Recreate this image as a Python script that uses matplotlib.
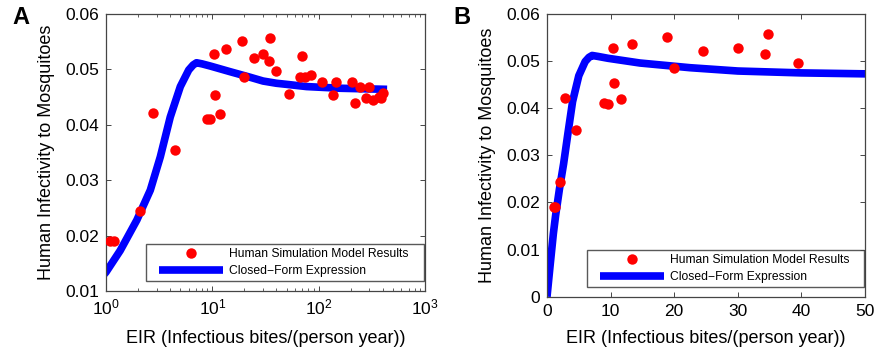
import matplotlib
matplotlib.use('Agg')
import matplotlib.pyplot as plt
import numpy as np
from matplotlib.lines import Line2D
from matplotlib.legend_handler import HandlerLine2D

plt.rcParams['font.family'] = ['Liberation Sans', 'DejaVu Sans']
plt.rcParams['mathtext.fontset'] = 'custom'
plt.rcParams['mathtext.rm'] = 'Liberation Sans'
plt.rcParams['mathtext.it'] = 'Liberation Sans:italic'

# simulation results (EIR, infectivity)
sim_eir = [1.08, 1.2, 2.07, 2.76, 4.5, 8.9, 9.6, 10.3, 10.5, 11.7, 13.3, 18.9, 19.9,
           24.5, 30.0, 34.2, 34.7, 39.5, 53, 66.4, 69.8, 74.0, 85.5, 108.6, 135, 145,
           205, 219, 244, 278, 299, 323, 370, 388, 403]
sim_inf = [0.0191, 0.0191, 0.0244, 0.0421, 0.0354, 0.0411, 0.0410, 0.0527, 0.0454,
           0.0420, 0.0537, 0.0552, 0.0486, 0.0521, 0.0528, 0.0516, 0.0557, 0.0497,
           0.0455, 0.0487, 0.0525, 0.0486, 0.0490, 0.0478, 0.0454, 0.0478, 0.0478,
           0.0440, 0.0469, 0.0448, 0.0469, 0.0445, 0.0450, 0.0448, 0.0457]

# closed-form expression curve
cf_eir = [0, 0.5, 1.0, 1.36, 1.95, 2.61, 3.24, 4.02, 5.0, 6.0, 6.6, 7.1, 8.0, 9.6, 14.6,
          22.5, 30, 40, 50, 77, 158, 440]
cf_inf = [0.0, 0.0068, 0.0134, 0.0173, 0.0228, 0.0282, 0.0342, 0.0414, 0.0469, 0.0499,
          0.0508, 0.0512, 0.0510, 0.0506, 0.0496, 0.0486, 0.0479, 0.0475, 0.0473,
          0.0469, 0.0466, 0.0464]

yticks_a = [0.01, 0.02, 0.03, 0.04, 0.05, 0.06]
ytick_labels_a = ['0.01', '0.02', '0.03', '0.04', '0.05', '0.06']
yticks_b = [0, 0.01, 0.02, 0.03, 0.04, 0.05, 0.06]
ytick_labels_b = ['0', '0.01', '0.02', '0.03', '0.04', '0.05', '0.06']
xticks_b = [0, 10, 20, 30, 40, 50]


class PaddedLine(HandlerLine2D):
    # legend handle with a gap on the left, like MATLAB legends
    def get_xdata(self, legend, xdescent, ydescent, width, height, fontsize):
        x0 = -xdescent + 0.75 * fontsize
        x1 = -xdescent + width
        return [x0, x1], [0.5 * (x0 + x1)]


W, H = 879, 354
fig = plt.figure(figsize=(W / 100, H / 100), dpi=100)
ax1 = fig.add_axes([106 / W, (H - 291) / H, 319 / W, 277 / H])
ax2 = fig.add_axes([547 / W, (H - 296.7) / H, 318 / W, 282.7 / H])

spine_col = '#454545'
for ax in (ax1, ax2):
    ax.plot(sim_eir, sim_inf, 'o', color='red', markersize=7.5, markeredgewidth=0,
            label='Human Simulation Model Results', zorder=3)
    ax.set_ylabel('Human Infectivity to Mosquitoes', fontsize=13)
    ax.set_xlabel('EIR (Infectious bites/(person year))', fontsize=13)
    ax.tick_params(which='both', direction='in', top=True, right=True,
                   labelsize=12.5, color=spine_col, pad=5)
    ax.tick_params(which='major', length=3.5, width=0.7)
    ax.tick_params(which='minor', length=2, width=0.6)
    for s in ax.spines.values():
        s.set_color(spine_col)
        s.set_linewidth(0.9)

# panel A: log x
pos = np.array(cf_eir) > 0
ax1.plot(np.array(cf_eir)[pos], np.array(cf_inf)[pos], color='blue', linewidth=5.5,
         solid_capstyle='butt', solid_joinstyle='round',
         label='Closed\u2212Form Expression', zorder=2)
ax1.set_xscale('log')
ax1.set_xlim(1, 1000)
ax1.set_ylim(0.01, 0.06)
ax1.set_yticks(yticks_a)
ax1.set_yticklabels(ytick_labels_a)
ax1.yaxis.set_label_coords(-0.16, 0.5)
ax1.xaxis.set_label_coords(0.5, -0.14)

# panel B: linear x
ax2.plot(cf_eir, cf_inf, color='blue', linewidth=5.5, solid_capstyle='butt',
         solid_joinstyle='round', label='Closed\u2212Form Expression', zorder=2)
ax2.set_xlim(0, 50)
ax2.set_ylim(0, 0.06)
ax2.set_xticks(xticks_b)
ax2.set_yticks(yticks_b)
ax2.set_yticklabels(ytick_labels_b)
ax2.minorticks_off()
ax2.yaxis.set_label_coords(-0.16, 0.5)
ax2.xaxis.set_label_coords(0.5, -0.117)

for ax, box in ((ax1, (0.1245, 10 / 277, 0.8724, 0.1)),
                (ax2, (0.1248, 9.5 / 282.7, 0.872, 0.1))):
    leg = ax.legend(loc='lower left', bbox_to_anchor=box, mode='expand', borderaxespad=0,
                    fontsize=8.7, frameon=True, fancybox=False, handlelength=6.05,
                    handletextpad=0.5, borderpad=0.35, labelspacing=0.4, numpoints=1,
                    handler_map={Line2D: PaddedLine()})
    leg.get_frame().set_edgecolor('#303030')
    leg.get_frame().set_linewidth(1.0)

fig.text(21 / W, 1 - 17.5 / H, 'A', fontsize=17, fontweight='bold', ha='center', va='center')
fig.text(461.5 / W, 1 - 17 / H, 'B', fontsize=17, fontweight='bold', ha='center', va='center')

fig.savefig('out.png', dpi=100)
